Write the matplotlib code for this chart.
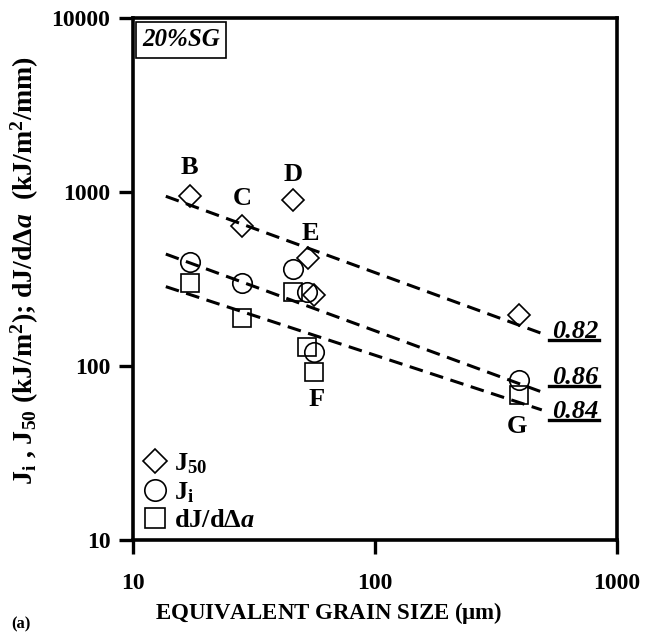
import numpy as np
import matplotlib
matplotlib.use('Agg')
from matplotlib import pyplot as plt

plt.rcParams['font.family'] = ['Liberation Serif', 'DejaVu Serif']
plt.rcParams['font.weight'] = 'bold'
plt.rcParams['mathtext.fontset'] = 'custom'
plt.rcParams['mathtext.rm'] = 'Liberation Serif:bold'
plt.rcParams['mathtext.bf'] = 'Liberation Serif:bold'
plt.rcParams['mathtext.it'] = 'Liberation Serif:bold:italic'

# grain size (um) and toughness values
grain = [17.2, 28.3, 45.8, 52.8, 56.0, 392]
j50 = [950, 635, 904, 417, 257, 197]
grain_ji = [17.2, 28.3, 45.8, 52.5, 56.0, 392]
ji = [394, 299, 362, 268, 121, 83]
grain_dj = [17.2, 28.3, 45.8, 52.5, 56.3, 395]
djda = [302, 190, 265, 129, 93, 68]

# power law fit lines (end points)
fit_x = [13.7, 489]
fit_j50 = [945, 154]
fit_ji = [440, 71]
fit_dj = [286, 56]
fit_r2 = ['0.82', '0.86', '0.84']
r2_y = [159, 86.5, 55]

# point letters
letters = ['B', 'C', 'D', 'E', 'F', 'G']
letter_x = [17.2, 28.3, 45.8, 54.2, 57.4, 387]
letter_y = [1390, 920, 1265, 578, 64, 45]

fig = plt.figure(figsize=(6.48, 6.40), dpi=100)
ax = fig.add_axes([0.2048, 0.156, 0.7474, 0.816])
ax.set_xscale('log')
ax.set_yscale('log')
ax.set_xlim(10, 1000)
ax.set_ylim(10, 10000)

dash = (0, (4.5, 2.5))
ax.plot(fit_x, fit_j50, color='black', lw=2.2, ls=dash)
ax.plot(fit_x, fit_ji, color='black', lw=2.2, ls=dash)
ax.plot(fit_x, fit_dj, color='black', lw=2.2, ls=dash)

ax.plot(grain, j50, 'D', ms=11, mfc='none', mec='black', mew=1.2, label=r'$\mathrm{J_{50}}$')
ax.plot(grain_ji, ji, 'o', ms=14, mfc='none', mec='black', mew=1.2, label=r'$\mathrm{J_i}$')
ax.plot(grain_dj, djda, 's', ms=13, mfc='none', mec='black', mew=1.2, label=r'$\mathrm{dJ/d\Delta}\mathit{a}$')

for t, x, y in zip(letters, letter_x, letter_y):
    ax.text(x, y, t, fontsize=19, fontweight='bold', ha='center', va='center')

r2_txt = []
for t, y in zip(fit_r2, r2_y):
    r2_txt.append(ax.text(670, y, t, fontsize=19, fontweight='bold', fontstyle='italic',
                          ha='center', va='center'))

ax.text(0.019, 0.958, '20%SG', transform=ax.transAxes, fontsize=18, fontweight='bold',
        fontstyle='italic', ha='left', va='center',
        bbox=dict(boxstyle='square,pad=0.25', fc='white', ec='black', lw=1.2))

leg = ax.legend(loc='lower left', frameon=False, fontsize=19, handletextpad=0.15,
                handlelength=1.1, labelspacing=0.15, borderaxespad=0.1, borderpad=0.2,
                markerscale=1.1)

for s in ax.spines.values():
    s.set_linewidth(2.6)
ax.tick_params(which='major', direction='out', length=10, width=2.4, labelsize=17, pad=6)
ax.tick_params(which='minor', length=0)
ax.xaxis.set_major_locator(matplotlib.ticker.FixedLocator([10, 100, 1000]))
ax.yaxis.set_major_locator(matplotlib.ticker.FixedLocator([10, 100, 1000, 10000]))
ax.set_xticklabels(['10', '100', '1000'])
ax.set_yticklabels(['10', '100', '1000', '10000'])
ax.tick_params(axis='x', pad=14)

ax.set_xlabel(r'EQUIVALENT GRAIN SIZE ($\mathrm{\mu}$m)', fontsize=16.5, fontweight='bold')
ax.xaxis.set_label_coords(0.405, -0.115)
ax.set_ylabel(r'$\mathrm{J_i}$ , $\mathrm{J_{50}}$ (kJ/m$^\mathrm{2}$); dJ/d$\mathrm{\Delta}\mathit{a}$  (kJ/m$^\mathrm{2}$/mm)',
              fontsize=20, fontweight='bold')
ax.yaxis.set_label_coords(-0.19, 0.517)
fig.text(0.018, 0.018, '(a)', fontsize=12, fontweight='bold')

# underline the exponent labels
fig.canvas.draw()
inv = fig.transFigure.inverted()
for t in r2_txt:
    bb = t.get_window_extent()
    (x0, y0), (x1, y1) = inv.transform([[bb.x0, bb.y0], [bb.x1, bb.y1]])
    fig.add_artist(plt.Line2D([x0 - 0.004, x1 + 0.002], [y0 + 0.004, y0 + 0.004], color='black', lw=2.4))

plt.savefig('out.png', dpi=100)
